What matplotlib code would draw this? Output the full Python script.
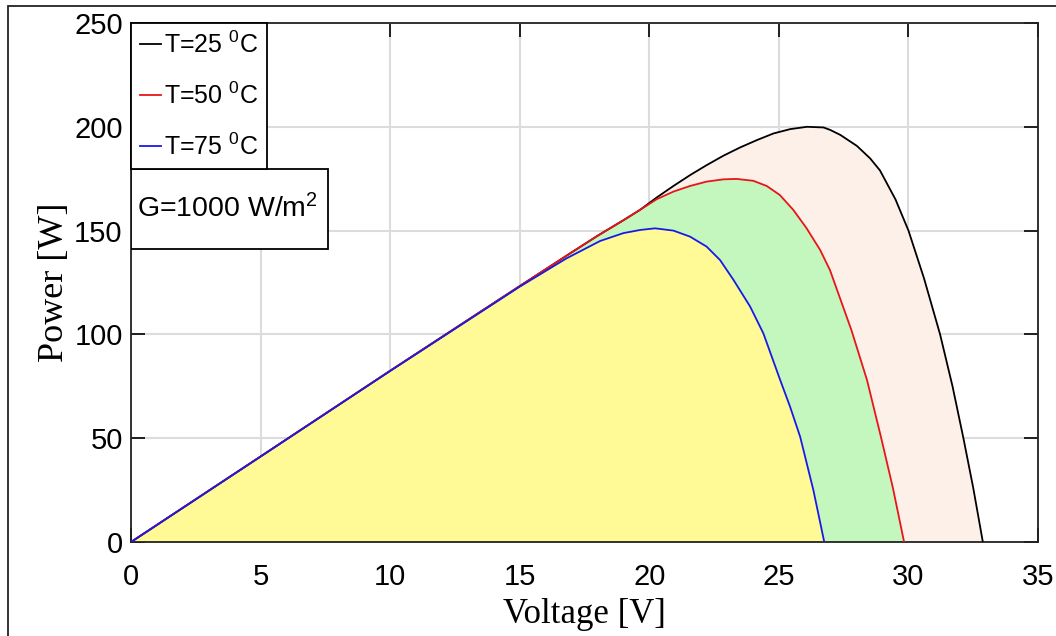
import matplotlib
matplotlib.use('Agg')
import matplotlib.pyplot as plt
from matplotlib.patches import Rectangle

plt.rcParams['font.family'] = 'Liberation Sans'
plt.rcParams['mathtext.fontset'] = 'custom'
plt.rcParams['mathtext.rm'] = 'Liberation Sans'
plt.rcParams['mathtext.default'] = 'regular'

# P-V curves
v_25 = [0, 5, 10, 15, 17, 18, 19, 19.64, 20.29, 20.93, 21.58, 22.22, 22.86,
        23.51, 24.15, 24.79, 25.44, 26.08, 26.72, 26.98, 27.37, 28.01, 28.52,
        28.9, 29.5, 30.0, 30.6, 31.22, 31.7, 32.12, 32.5, 32.87]
p_25 = [0, 41.2, 82.5, 123.3, 139.5, 147.5, 155, 160, 166, 171.5, 176.8, 181.6,
        186.1, 190.1, 193.6, 196.8, 198.9, 200, 199.7, 198.5, 196.1, 190.8,
        184.8, 179, 165, 150, 127, 100, 75, 50, 26, 0]

v_50 = [0, 5, 10, 15, 17, 18, 19, 19.64, 20.28, 20.93, 21.57, 22.21, 22.86,
        23.37, 24.01, 24.53, 25.04, 25.56, 26.07, 26.59, 26.97, 27.8, 28.4,
        28.93, 29.4, 29.83]
p_50 = [0, 41.2, 82.5, 123.3, 139.5, 147.5, 155, 160, 165.1, 168.8, 171.5,
        173.6, 174.7, 174.9, 174, 171.5, 167.1, 159.9, 151.1, 140.7, 131, 102,
        78, 51, 26, 0]

v_75 = [0, 5, 10, 15, 16.8, 18.1, 19.0, 19.64, 20.22, 20.93, 21.57, 22.21,
        22.73, 23.25, 23.89, 24.4, 25.05, 25.43, 25.82, 26.33, 26.75]
p_75 = [0, 41.2, 82.4, 123, 136.6, 145, 148.8, 150.3, 151.1, 150, 147.1, 142.3,
        135.8, 126.2, 113.4, 100.5, 78, 65.2, 50.7, 25, 0]

labels = ['T=25 $^0$C', 'T=50 $^0$C', 'T=75 $^0$C']
x_ticks = [0, 5, 10, 15, 20, 25, 30, 35]
y_ticks = [0, 50, 100, 150, 200, 250]

fig = plt.figure(figsize=(10.56, 6.36), dpi=100)
ax = fig.add_axes([0.1241, 0.1478, 0.8589, 0.816])

# filled regions, drawn largest first
ax.fill(v_25, p_25, color='#FDF0E9', lw=0, zorder=1)
ax.fill(v_50, p_50, color='#C4F7BD', lw=0, zorder=1)
ax.fill(v_75, p_75, color='#FFF996', lw=0, zorder=1)

ax.plot(v_25, p_25, color='black', lw=1.3, label=labels[0], zorder=3)
ax.plot(v_50, p_50, color='#E8141B', lw=1.3, label=labels[1], zorder=3)
ax.plot(v_75, p_75, color='#1A1AE6', lw=1.3, label=labels[2], zorder=3)

ax.set_xlim(0, 35)
ax.set_ylim(0, 250)
ax.set_xticks(x_ticks)
ax.set_yticks(y_ticks)
ax.grid(True, color='#DCDCDC', lw=1.5, zorder=0)
ax.set_axisbelow(True)
ax.tick_params(direction='in', length=10, width=1.2, top=True, right=True,
               labelsize=21)
ax.tick_params(axis='x', pad=15)
ax.tick_params(axis='y', pad=6)
for s in ax.spines.values():
    s.set_linewidth(1.3)
    s.set_color('#222222')

ax.set_xlabel('Voltage [V]', family='Liberation Serif', fontsize=25, labelpad=5)
ax.set_ylabel('Power [W]', family='Liberation Serif', fontsize=26, labelpad=2)

leg = ax.legend(loc='upper left', bbox_to_anchor=(0, 1), borderaxespad=0,
                fontsize=18, handlelength=0.85, handletextpad=0.1,
                labelspacing=0.98, borderpad=0.35, fancybox=False, framealpha=1)
leg.get_frame().set_edgecolor('black')
leg.get_frame().set_linewidth(1.3)

# irradiance box below the legend
ax.add_patch(Rectangle((0, 0.5645), 0.217, 0.1542, transform=ax.transAxes,
                       fc='white', ec='black', lw=1.3, zorder=5))
ax.text(0.007, 0.642, 'G=1000 W/m$^2$', transform=ax.transAxes, fontsize=20.5,
        va='center', ha='left', zorder=6)

# outer frame of the image
fig.add_artist(Rectangle((8 / 1056, -0.05), 1.2, (630 / 636) + 0.05,
                         transform=fig.transFigure, fill=False,
                         ec='#222222', lw=1.3, clip_on=False))

fig.savefig('out.png', dpi=100)
